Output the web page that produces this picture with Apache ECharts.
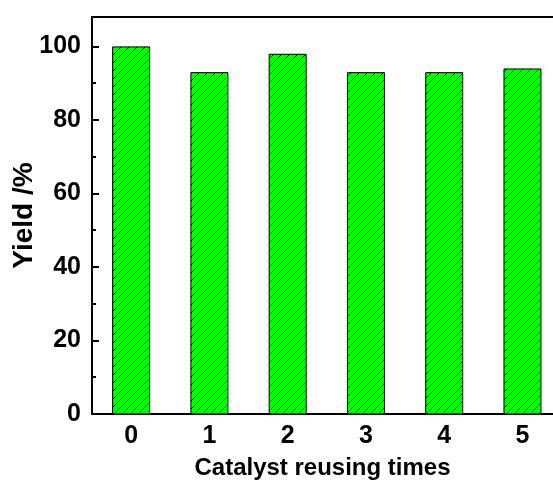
<!DOCTYPE html>
<html>
<head>
<meta charset="utf-8">
<script src="https://cdn.jsdelivr.net/npm/echarts@6/dist/echarts.min.js"></script>
<style>
  html, body { margin: 0; padding: 0; background: #fff; overflow: hidden; }
  #chart { width: 553px; height: 484px; }
</style>
</head>
<body>
<div id="chart"></div>
<script>
// Yield of the reaction over successive catalyst reuse cycles
const cycles = [0, 1, 2, 3, 4, 5];
const yields = [100, 93, 98, 93, 93, 94];
const yTicks = [0, 20, 40, 60, 80, 100];

const FONT = '"Liberation Sans", Arial, sans-serif';

// Green fill with thin black "/" hatching
function hatchPattern() {
  const s = 8;
  const c = document.createElement('canvas');
  c.width = s; c.height = s;
  const g = c.getContext('2d');
  g.fillStyle = '#00ff00';
  g.fillRect(0, 0, s, s);
  g.strokeStyle = '#000';
  g.lineWidth = 0.9;
  g.beginPath();
  g.moveTo(0, s); g.lineTo(s, 0);
  g.moveTo(-1, 1); g.lineTo(1, -1);
  g.moveTo(s - 1, s + 1); g.lineTo(s + 1, s - 1);
  g.stroke();
  return c;
}

const chart = echarts.init(document.getElementById('chart'), null, { renderer: 'canvas' });

const tickFont = { color: '#000', fontFamily: FONT, fontWeight: 'bold', fontSize: 25 };
const axisLine = { show: true, onZero: false, lineStyle: { color: '#000', width: 2 } };

// the plot box runs past the right edge of the figure
const xMin = -0.5, xMax = 5.39;

chart.setOption({
  animation: false,
  backgroundColor: '#fff',
  grid: { left: 92, right: 0, top: 17, bottom: 70, containLabel: false, outerBoundsMode: 'none' },
  xAxis: [
    {
      type: 'value',
      min: xMin,
      max: xMax,
      name: 'Catalyst reusing times',
      nameLocation: 'middle',
      nameGap: 42,
      nameMoveOverlap: false,
      nameTextStyle: { color: '#000', fontFamily: FONT, fontWeight: 'bold', fontSize: 24 },
      axisLine: axisLine,
      axisTick: { show: true, inside: true, length: 6, customValues: cycles, lineStyle: { color: '#000', width: 2 } },
      axisLabel: Object.assign({ margin: 10, customValues: cycles, formatter: v => String(v) }, tickFont),
      splitLine: { show: false }
    },
    {
      type: 'value',
      min: xMin,
      max: xMax,
      position: 'top',
      axisLine: axisLine,
      axisTick: { show: false },
      axisLabel: { show: false },
      splitLine: { show: false }
    }
  ],
  yAxis: {
    type: 'value',
    min: 0,
    max: 108,
    interval: 20,
    name: 'Yield /%',
    nameLocation: 'middle',
    nameGap: 54,
    nameMoveOverlap: false,
    nameRotate: 90,
    nameTextStyle: { color: '#000', fontFamily: FONT, fontWeight: 'bold', fontSize: 28 },
    axisLine: axisLine,
    axisTick: { show: true, inside: true, length: 7, lineStyle: { color: '#000', width: 2 } },
    minorTick: { show: true, splitNumber: 2, length: 4, lineStyle: { color: '#000', width: 2 } },
    axisLabel: Object.assign({
      margin: 11,
      showMaxLabel: false,
      formatter: v => (yTicks.indexOf(v) >= 0 ? String(v) : '')
    }, tickFont),
    splitLine: { show: false }
  },
  series: [{
    type: 'bar',
    xAxisIndex: 0,
    data: cycles.map((c, i) => [c, yields[i]]),
    barWidth: 38,
    itemStyle: {
      color: { image: hatchPattern(), repeat: 'repeat' },
      borderColor: '#000',
      borderWidth: 1
    }
  }]
});
</script>
</body>
</html>
